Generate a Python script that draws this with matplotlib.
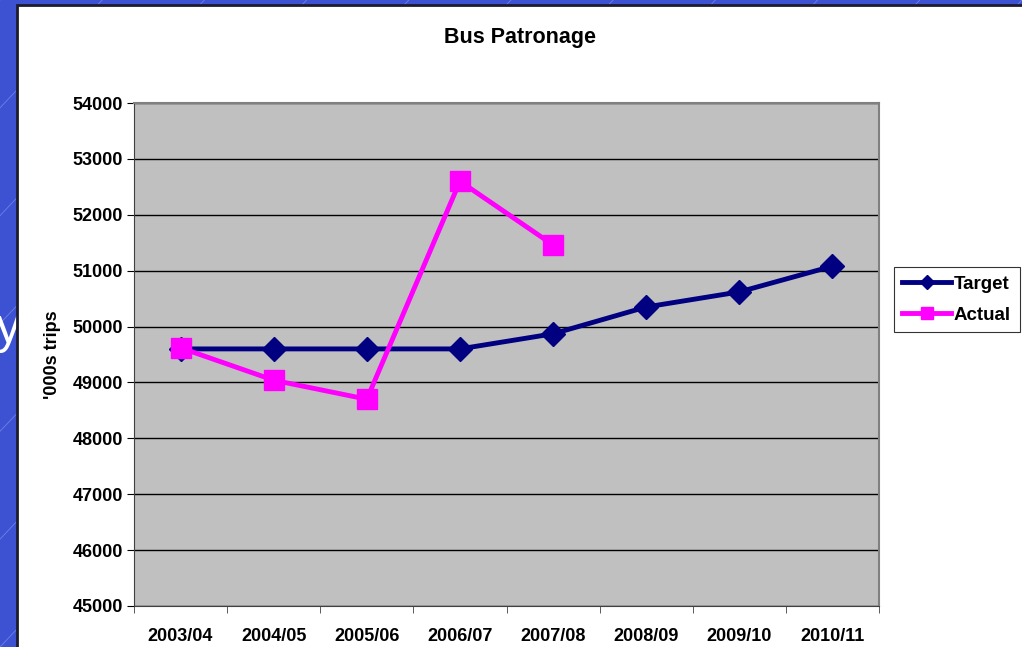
import matplotlib.pyplot as plt
from matplotlib.patches import Rectangle
from matplotlib.lines import Line2D

plt.rcParams['font.family'] = ['Liberation Sans', 'DejaVu Sans']

years = ['2003/04', '2004/05', '2005/06', '2006/07', '2007/08',
         '2008/09', '2009/10', '2010/11']
target = [49600, 49600, 49600, 49600, 49870, 50350, 50620, 51080]
actual = [49620, 49040, 48700, 52600, 51460]

fig = plt.figure(figsize=(10.22, 6.47), dpi=100, facecolor='#3d52d2')

# slide background: faint diagonal lines, a stray letter, white chart panel
for k in range(-12, 12):
    x0 = k * 0.1
    fig.add_artist(Line2D([x0, x0 + 0.6], [0, 1], transform=fig.transFigure,
                          color='#6f80e4', lw=0.6, zorder=-3))
fig.text(-0.004, 0.49, 'y', color='white', fontsize=36, ha='left', va='center',
         zorder=-2)
fig.add_artist(Rectangle((17 / 1022, -0.05), 1.1, (647 - 5) / 647 + 0.05,
                         transform=fig.transFigure, facecolor='white',
                         edgecolor='#1c1c2e', lw=2, zorder=-1))

ax = fig.add_axes([134 / 1022, 41 / 647, 745 / 1022, 503 / 647])
ax.set_facecolor('#c0c0c0')
x = list(range(len(years)))
ax.plot(x, target, color='#000080', lw=3.5, marker='D', markersize=12,
        label='Target', zorder=3)
ax.plot(x[:len(actual)], actual, color='#ff00ff', lw=3.5, marker='s',
        markersize=14, label='Actual', zorder=4)

ax.set_xlim(-0.5, 7.5)
ax.set_ylim(45000, 54000)
ax.set_yticks(range(45000, 54001, 1000))
ax.set_xticks(x)
ax.set_xticklabels(years)
ax.set_xticks([i + 0.5 for i in range(-1, 8)], minor=True)
ax.tick_params(axis='x', which='major', length=0, pad=16)
ax.tick_params(axis='x', which='minor', length=5, direction='out', color='#404040')
ax.tick_params(axis='y', length=5, direction='out', pad=3)
for lab in ax.get_xticklabels() + ax.get_yticklabels():
    lab.set_fontweight('bold')
    lab.set_fontsize(13)
ax.grid(axis='y', color='black', lw=1)
ax.set_axisbelow(True)
for s in ['top', 'right']:
    ax.spines[s].set_color('#808080')
    ax.spines[s].set_linewidth(1.5)
for s in ['left', 'bottom']:
    ax.spines[s].set_color('#404040')

ax.set_ylabel("'000s trips", fontsize=13, fontweight='bold', labelpad=8)
fig.text(520 / 1022, 1 - 37 / 647, 'Bus Patronage', ha='center', va='center',
         fontsize=15.5, fontweight='bold')

leg = ax.legend(loc='upper left', bbox_to_anchor=(894 / 1022, 1 - 267 / 647),
                bbox_transform=fig.transFigure, frameon=True, fancybox=False,
                edgecolor='black', borderpad=0.45, borderaxespad=0,
                handlelength=2.6, handletextpad=0.15, labelspacing=0.75,
                markerscale=0.6, prop={'weight': 'bold', 'size': 13.5})
leg.get_frame().set_linewidth(0.8)

fig.savefig('out.png', dpi=100, facecolor=fig.get_facecolor())
